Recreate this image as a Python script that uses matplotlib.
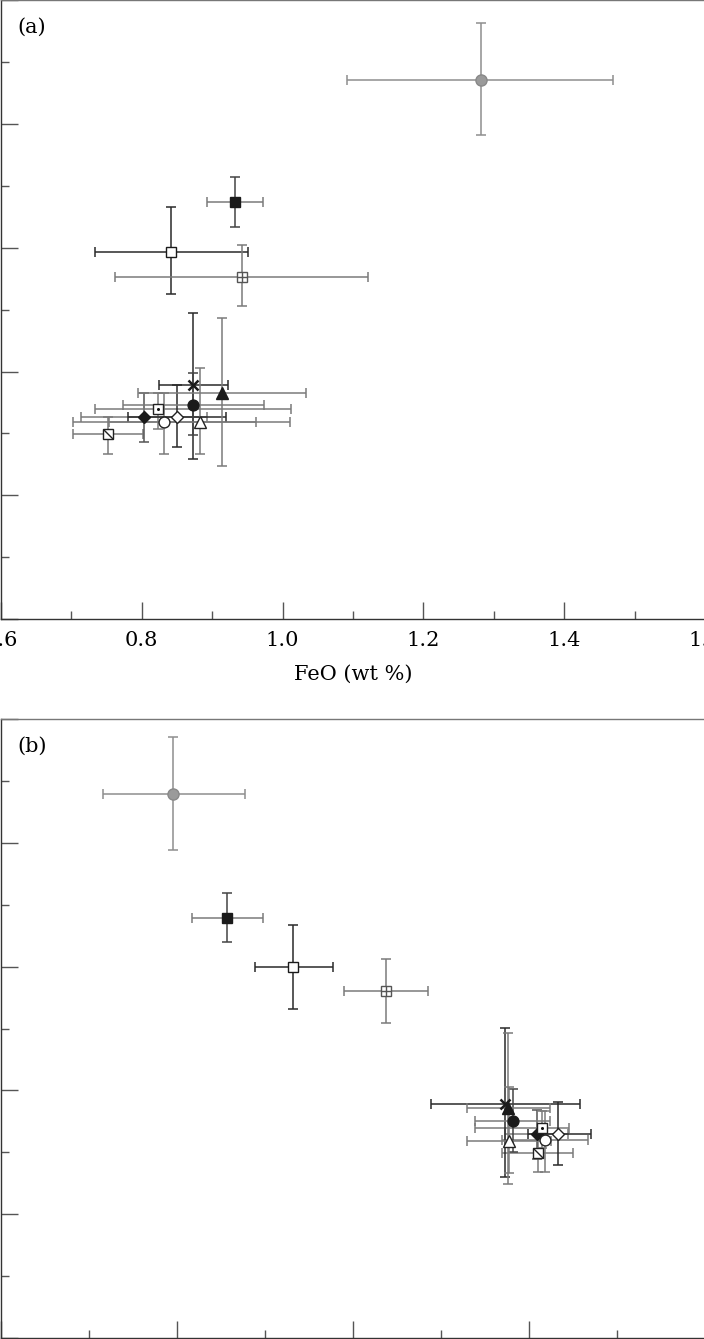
import matplotlib
matplotlib.use("Agg")
import matplotlib.pyplot as plt
from matplotlib.path import Path
from matplotlib.ticker import MultipleLocator

# ---------------- data ----------------
samples = ["grey circle", "filled square", "open square", "square plus",
           "hatched square", "filled diamond", "dotted square", "open circle",
           "open diamond", "cross", "filled circle", "open triangle",
           "filled triangle"]

# panel (a): FeO (wt %) vs y
a_x     = [1.282, 0.932, 0.841, 0.942, 0.752, 0.803, 0.823, 0.832, 0.850, 0.873, 0.873, 0.882, 0.914]
a_x_lo  = [0.191, 0.040, 0.108, 0.180, 0.050, 0.090, 0.090, 0.130, 0.070, 0.049, 0.100, 0.129, 0.120]
a_x_hi  = [0.187, 0.040, 0.110, 0.180, 0.050, 0.090, 0.189, 0.130, 0.070, 0.049, 0.100, 0.129, 0.119]
a_y     = [4.360, 3.371, 2.968, 2.766, 1.492, 1.631, 1.694, 1.591, 1.631, 1.895, 1.734, 1.591, 1.831]
a_y_lo  = [0.449, 0.202, 0.339, 0.234, 0.161, 0.202, 0.161, 0.258, 0.244, 0.605, 0.250, 0.260, 0.597]
a_y_hi  = [0.456, 0.202, 0.363, 0.258, 0.140, 0.199, 0.137, 0.234, 0.264, 0.581, 0.258, 0.435, 0.605]

# panel (b)
b_x     = [0.979, 1.282, 1.661, 2.186, 3.049, 3.044, 3.074, 3.091, 3.165, 2.865, 2.907, 2.885, 2.882]
b_x_lo  = [0.401, 0.199, 0.216, 0.239, 0.203, 0.180, 0.381, 0.244, 0.172, 0.422, 0.214, 0.239, 0.236]
b_x_hi  = [0.407, 0.206, 0.227, 0.240, 0.199, 0.180, 0.153, 0.244, 0.188, 0.424, 0.212, 0.239, 0.240]
b_y     = [4.395, 3.395, 2.998, 2.801, 1.498, 1.645, 1.699, 1.602, 1.645, 1.893, 1.752, 1.591, 1.860]
b_y_lo  = [0.457, 0.196, 0.342, 0.260, 0.161, 0.202, 0.161, 0.258, 0.244, 0.592, 0.250, 0.260, 0.613]
b_y_hi  = [0.462, 0.199, 0.335, 0.258, 0.140, 0.199, 0.137, 0.234, 0.264, 0.613, 0.258, 0.435, 0.602]

a_xlim = (0.6, 1.6)
a_xticks = [0.6, 0.8, 1.0, 1.2, 1.4, 1.6]
a_xticklabels = ["0.6", "0.8", "1.0", "1.2", "1.4", "1.6"]
b_xlim = (0.0, 4.0)
ylim = (0.0, 5.0)

# ---------------- styles ----------------
DK = "#2a2a2a"
GR = "#7a7a7a"
LG = "#8e8e8e"
xbar_col = [LG, GR, DK, GR, GR, GR, GR, GR, DK, DK, GR, GR, GR]
ybar_col = [LG, "#444444", DK, GR, GR, "#555555", GR, GR, DK, DK, "#444444", GR, GR]

diag = Path([(-1, 1), (1, -1)], [Path.MOVETO, Path.LINETO])

# marker, size, face, edge, inner glyph
mstyle = [
    ("o", 8.0, "#9a9a9a", "#888888", None),
    ("s", 7.2, "#1a1a1a", "#1a1a1a", None),
    ("s", 7.2, "white", "#1a1a1a", None),
    ("s", 7.2, "white", "#555555", "+"),
    ("s", 7.2, "white", "#222222", "diag"),
    ("D", 6.6, "#1a1a1a", "#1a1a1a", None),
    ("s", 7.2, "white", "#222222", "dot"),
    ("o", 7.8, "white", "#222222", None),
    ("D", 6.6, "white", "#222222", None),
    ("x", 7.0, "#1a1a1a", "#1a1a1a", None),
    ("o", 7.8, "#1a1a1a", "#1a1a1a", None),
    ("^", 8.0, "white", "#222222", None),
    ("^", 8.0, "#1a1a1a", "#1a1a1a", None),
]

plt.rcParams["font.family"] = ["DejaVu Serif"]
fig = plt.figure(figsize=(7.04, 13.39), dpi=100)
W, H = 704.0, 1339.0

ax_a = fig.add_axes([1.0 / W, 1 - 619.0 / H, 704.0 / W, 618.5 / H])
ax_b = fig.add_axes([1.0 / W, 1 - 1338.0 / H, 704.0 / W, 619.0 / H])


def draw(ax, xs, xlo, xhi, ys, ylo, yhi):
    for i in range(len(xs)):
        ax.errorbar([xs[i]], [ys[i]], xerr=[[xlo[i]], [xhi[i]]], fmt="none",
                    ecolor=xbar_col[i], elinewidth=1.1, capsize=3.6, capthick=1.1, zorder=2)
        ax.errorbar([xs[i]], [ys[i]], yerr=[[ylo[i]], [yhi[i]]], fmt="none",
                    ecolor=ybar_col[i], elinewidth=1.1, capsize=3.6, capthick=1.1, zorder=2)
    for i in range(len(xs)):
        m, ms, fc, ec, inner = mstyle[i]
        if m == "x":
            ax.plot([xs[i]], [ys[i]], marker="x", ms=ms, mew=1.8, color=ec,
                    linestyle="none", zorder=4)
        else:
            ax.plot([xs[i]], [ys[i]], marker=m, ms=ms, mfc=fc, mec=ec, mew=1.0,
                    linestyle="none", zorder=4)
        if inner == "+":
            ax.plot([xs[i]], [ys[i]], marker="+", ms=ms, mew=1.0, color=ec,
                    linestyle="none", zorder=5)
        elif inner == "diag":
            ax.plot([xs[i]], [ys[i]], marker=diag, ms=ms, mew=1.0, color=ec,
                    mfc="none", linestyle="none", zorder=5)
        elif inner == "dot":
            ax.plot([xs[i]], [ys[i]], marker="o", ms=2.2, mew=0, color="#111111",
                    linestyle="none", zorder=5)


def style(ax, xmaj, xmin):
    ax.set_ylim(*ylim)
    ax.xaxis.set_major_locator(MultipleLocator(xmaj))
    ax.xaxis.set_minor_locator(MultipleLocator(xmin))
    ax.yaxis.set_major_locator(MultipleLocator(1.0))
    ax.yaxis.set_minor_locator(MultipleLocator(0.5))
    ax.tick_params(which="both", direction="in", top=False, right=False,
                   color="#555555", width=1.0, labelsize=15, pad=9)
    ax.tick_params(which="major", length=12)
    ax.tick_params(which="minor", length=6)
    ax.spines["right"].set_visible(False)
    for s in ("left", "bottom"):
        ax.spines[s].set_color("#333333")
        ax.spines[s].set_linewidth(1.0)
    ax.spines["top"].set_color("#777777")
    ax.spines["top"].set_linewidth(1.0)


draw(ax_a, a_x, a_x_lo, a_x_hi, a_y, a_y_lo, a_y_hi)
ax_a.set_xlim(*a_xlim)
style(ax_a, 0.2, 0.1)
ax_a.set_xticks(a_xticks)
ax_a.set_xticklabels(a_xticklabels)
ax_a.set_xlabel("FeO (wt %)", fontsize=15, labelpad=10)
ax_a.text(16.0 / W, 1 - 17.0 / 618.5, "(a)", transform=ax_a.transAxes,
          fontsize=15, ha="left", va="top")

draw(ax_b, b_x, b_x_lo, b_x_hi, b_y, b_y_lo, b_y_hi)
ax_b.set_xlim(*b_xlim)
style(ax_b, 1.0, 0.5)
ax_b.text(16.0 / W, 1 - 18.0 / 619.0, "(b)", transform=ax_b.transAxes,
          fontsize=15, ha="left", va="top")

fig.savefig("out.png", dpi=100)
